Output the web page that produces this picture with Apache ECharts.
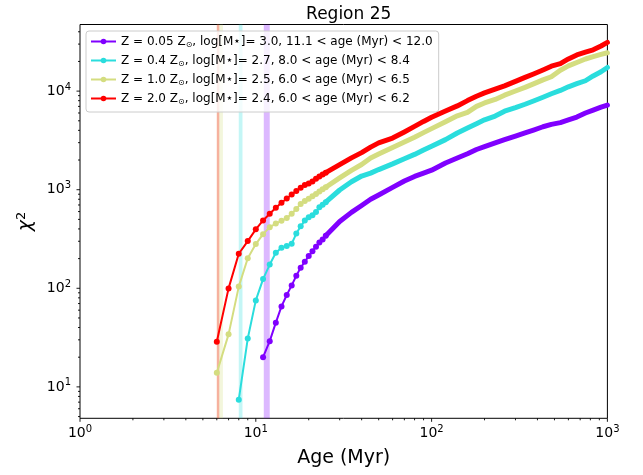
<!DOCTYPE html>
<html><head><meta charset="utf-8">
<script src="https://cdn.jsdelivr.net/npm/echarts@6/dist/echarts.min.js"></script>
<style>html,body{margin:0;padding:0;background:#fff}#c{width:643px;height:475px}</style>
</head><body><div id="c"></div>
<script>
// ---- data ----
const seriesNames = ['Z005', 'Z04', 'Z10', 'Z20'];
const seriesColors = ['#8000ff', '#2adddd', '#d4dd80', '#ff0000'];
const legendLabels = [
  'Z = 0.05 Z{sub|⊙}, log[M{st|★}]= 3.0, 11.1 < age (Myr) < 12.0',
  'Z = 0.4 Z{sub|⊙}, log[M{st|★}]= 2.7, 8.0 < age (Myr) < 8.4',
  'Z = 1.0 Z{sub|⊙}, log[M{st|★}]= 2.5, 6.0 < age (Myr) < 6.5',
  'Z = 2.0 Z{sub|⊙}, log[M{st|★}]= 2.4, 6.0 < age (Myr) < 6.2'
];
const ageBands = [[11.1, 12.0], [8.0, 8.4], [6.0, 6.5], [6.0, 6.2]];

// early (sparse, every Myr) part
const agesPurpleA = [11,12,13,14,15,16,17,18,19,20,21,22,23,24,25];
const chiPurpleA  = [20.0,29.1,44.8,65.5,85.5,107,134,162,186,212,237,264,292,313,342];
const agesCyanA   = [8,9,10,11,12,13,14,15,16,17,18,19,20,21,22,23,24,25];
const chiCyanA    = [7.41,30.9,75.4,124,174,229,258,268,283,359,425,486,526,552,594,663,703,748];
const agesYellowA = [6,7,8,9,10,11,12,13,14,15,16,17,18,19,20,21,22,23,24,25];
const chiYellowA  = [13.9,34.1,104,202,281,354,417,453,483,516,571,638,718,769,811,857,904,959,1009,1060];
const agesRedA    = [6,7,8,9,10,11,12,13,14,15,16,17,18,19,20,21,22,23,24,25];
const chiRedA     = [28.7,99.8,224,301,396,488,571,657,738,816,896,968,1047,1113,1153,1214,1290,1362,1426,1490];

// later (dense) part, sampled ages
const agesB = [25,30,35,40,45,50,60,70,80,90,100,120,140,160,180,200,230,260,300,340,380,430,480,540,600,670,750,830,920,1000];
const chiPurpleB = [342,475,589,692,801,884,1055,1225,1364,1470,1577,1866,2097,2313,2557,2736,2984,3221,3505,3777,4030,4352,4603,4793,5104,5458,5997,6425,6871,7210];
const chiCyanB   = [748,993,1203,1377,1473,1600,1827,2063,2280,2529,2767,3221,3758,4226,4677,5117,5589,6252,6800,7360,7940,8670,9400,10160,11060,11890,12740,14260,15700,17380];
const chiYellowB = [1060,1318,1573,1801,2096,2296,2679,3048,3407,3793,4165,4893,5614,6095,6998,7590,8240,9100,10020,10900,11830,12990,13990,16300,18030,19540,21170,22340,23570,24490];
const chiRedB    = [1490,1797,2102,2378,2704,2985,3344,3857,4385,4928,5435,6281,7079,8013,8873,9590,10480,11320,12560,13770,14930,16400,17900,19010,21230,23300,24820,26240,28700,31200];

// axes
const xMin = 1, xMax = 1000;
const yMin = 4.8, yMax = 47400;
const xMajorTicks = [1, 10, 100, 1000];
const xMinorTicks = [2,3,4,5,6,7,8,9,20,30,40,50,60,70,80,90,200,300,400,500,600,700,800,900];
const yMajorTicks = [10, 100, 1000, 10000];
const yMinorTicks = [5,6,7,8,9,20,30,40,50,60,70,80,90,200,300,400,500,600,700,800,900,2000,3000,4000,5000,6000,7000,8000,9000,20000,30000,40000];

const zip = (a, b) => a.map((v, i) => [v, b[i]]);
const sparseSets = [zip(agesPurpleA, chiPurpleA), zip(agesCyanA, chiCyanA), zip(agesYellowA, chiYellowA), zip(agesRedA, chiRedA)];
const denseSets = [zip(agesB, chiPurpleB), zip(agesB, chiCyanB), zip(agesB, chiYellowB), zip(agesB, chiRedB)];

const FONT = 'DejaVu Sans';
const isPow10 = v => Math.abs(Math.log10(v) - Math.round(Math.log10(v))) < 1e-6;
const powLabel = v => isPow10(v) ? '{b|10}{s|' + Math.round(Math.log10(v)) + '}' : '';
const tickRich = {
  b: {fontFamily: FONT, fontSize: 14, color: '#000', lineHeight: 18},
  s: {fontFamily: FONT, fontSize: 10, color: '#000', lineHeight: 10, verticalAlign: 'top'}
};

function hexA(hex, a) {
  const r = parseInt(hex.slice(1,3),16), g = parseInt(hex.slice(3,5),16), b = parseInt(hex.slice(5,7),16);
  return 'rgba(' + r + ',' + g + ',' + b + ',' + a + ')';
}

const series = [];
for (let i = 0; i < 4; i++) {
  series.push({
    name: seriesNames[i], type: 'line', data: sparseSets[i],
    color: seriesColors[i], symbol: 'circle', symbolSize: 6, showSymbol: true,
    lineStyle: {width: 2, color: seriesColors[i]}, itemStyle: {color: seriesColors[i]},
    z: 3 + i, animation: false, silent: true,
    markArea: {silent: true, itemStyle: {color: hexA(seriesColors[i], 0.28)},
      data: [[{xAxis: ageBands[i][0]}, {xAxis: ageBands[i][1]}]]}
  });
}
for (let i = 0; i < 4; i++) {
  series.push({
    name: seriesNames[i], type: 'line', data: denseSets[i],
    color: seriesColors[i], symbol: 'none', showSymbol: false,
    lineStyle: {width: 5, color: seriesColors[i], cap: 'round', join: 'round'},
    z: 3 + i, animation: false, silent: true
  });
}
// ticks drawn through the axes' scales
function tickSeries(data, kind) {
  return {
    type: 'custom', silent: true, animation: false, clip: false, z: 20,
    data: data,
    renderItem: function (params, api) {
      const len = api.value(2);
      const p = api.coord([api.value(0), api.value(1)]);
      const shape = kind === 'y' ? {x1: p[0] - len, y1: p[1], x2: p[0], y2: p[1]}
                                 : {x1: p[0], y1: p[1], x2: p[0], y2: p[1] + len};
      return {type: 'line', shape: shape, style: {stroke: '#000', lineWidth: 0.9}};
    }
  };
}
series.push(tickSeries(yMajorTicks.map(v => [xMin, v, 3.5]), 'y'));
series.push(tickSeries(yMinorTicks.map(v => [xMin, v, 2]), 'y'));
series.push(tickSeries(xMajorTicks.map(v => [v, yMin, 3.5]), 'x'));
series.push(tickSeries(xMinorTicks.map(v => [v, yMin, 2]), 'x'));

const chart = echarts.init(document.getElementById('c'), null, {renderer: 'canvas'});
chart.setOption({
  animation: false,
  backgroundColor: '#fff',
  title: {text: 'Region 25', left: 343.7, textAlign: 'center', top: 1,
    textStyle: {fontFamily: FONT, fontSize: 17, fontWeight: 'normal', color: '#000'}},
  grid: {left: 80, right: 35.6, top: 24.5, bottom: 56.7, show: true, borderColor: '#000', borderWidth: 1, backgroundColor: 'transparent', containLabel: false},
  legend: {
    data: seriesNames, orient: 'vertical', left: 86, top: 31,
    itemWidth: 25, itemHeight: 7, itemGap: 4,
    padding: [3, 6, 6, 4],
    backgroundColor: 'rgba(255,255,255,0.8)', borderColor: '#cccccc', borderWidth: 1, borderRadius: 3,
    formatter: name => legendLabels[seriesNames.indexOf(name)],
    textStyle: {fontFamily: FONT, fontSize: 12, color: '#000', lineHeight: 15,
      rich: {
        sub: {fontFamily: FONT, fontSize: 8, color: '#000', verticalAlign: 'bottom', lineHeight: 11},
        st: {fontFamily: FONT, fontSize: 6, color: '#000', verticalAlign: 'middle', lineHeight: 15, padding: [0, 1, 0, 1]}
      }},
    selectedMode: false
  },
  xAxis: {
    type: 'log', logBase: 10, min: xMin, max: xMax, splitNumber: 3,
    name: 'Age (Myr)', nameLocation: 'middle', nameGap: 30,
    nameTextStyle: {fontFamily: FONT, fontSize: 19, color: '#000'},
    axisLine: {show: false}, axisTick: {show: false}, splitLine: {show: false},
    axisLabel: {formatter: powLabel, margin: 6, rich: tickRich, color: '#000'}
  },
  yAxis: {
    type: 'log', logBase: 10, min: yMin, max: yMax, splitNumber: 5,
    name: '{a|χ}{s|2}', nameLocation: 'middle', nameGap: 42,
    nameTextStyle: {fontFamily: FONT, fontSize: 19, color: '#000',
      rich: {a: {fontFamily: FONT, fontSize: 19, fontStyle: 'italic', color: '#000', lineHeight: 22},
             s: {fontFamily: FONT, fontSize: 13, color: '#000', verticalAlign: 'top', lineHeight: 13}}},
    axisLine: {show: false}, axisTick: {show: false}, splitLine: {show: false},
    axisLabel: {formatter: powLabel, margin: 9, rich: tickRich, color: '#000', showMinLabel: true, showMaxLabel: true}
  },
  series: series
});
</script></body></html>
